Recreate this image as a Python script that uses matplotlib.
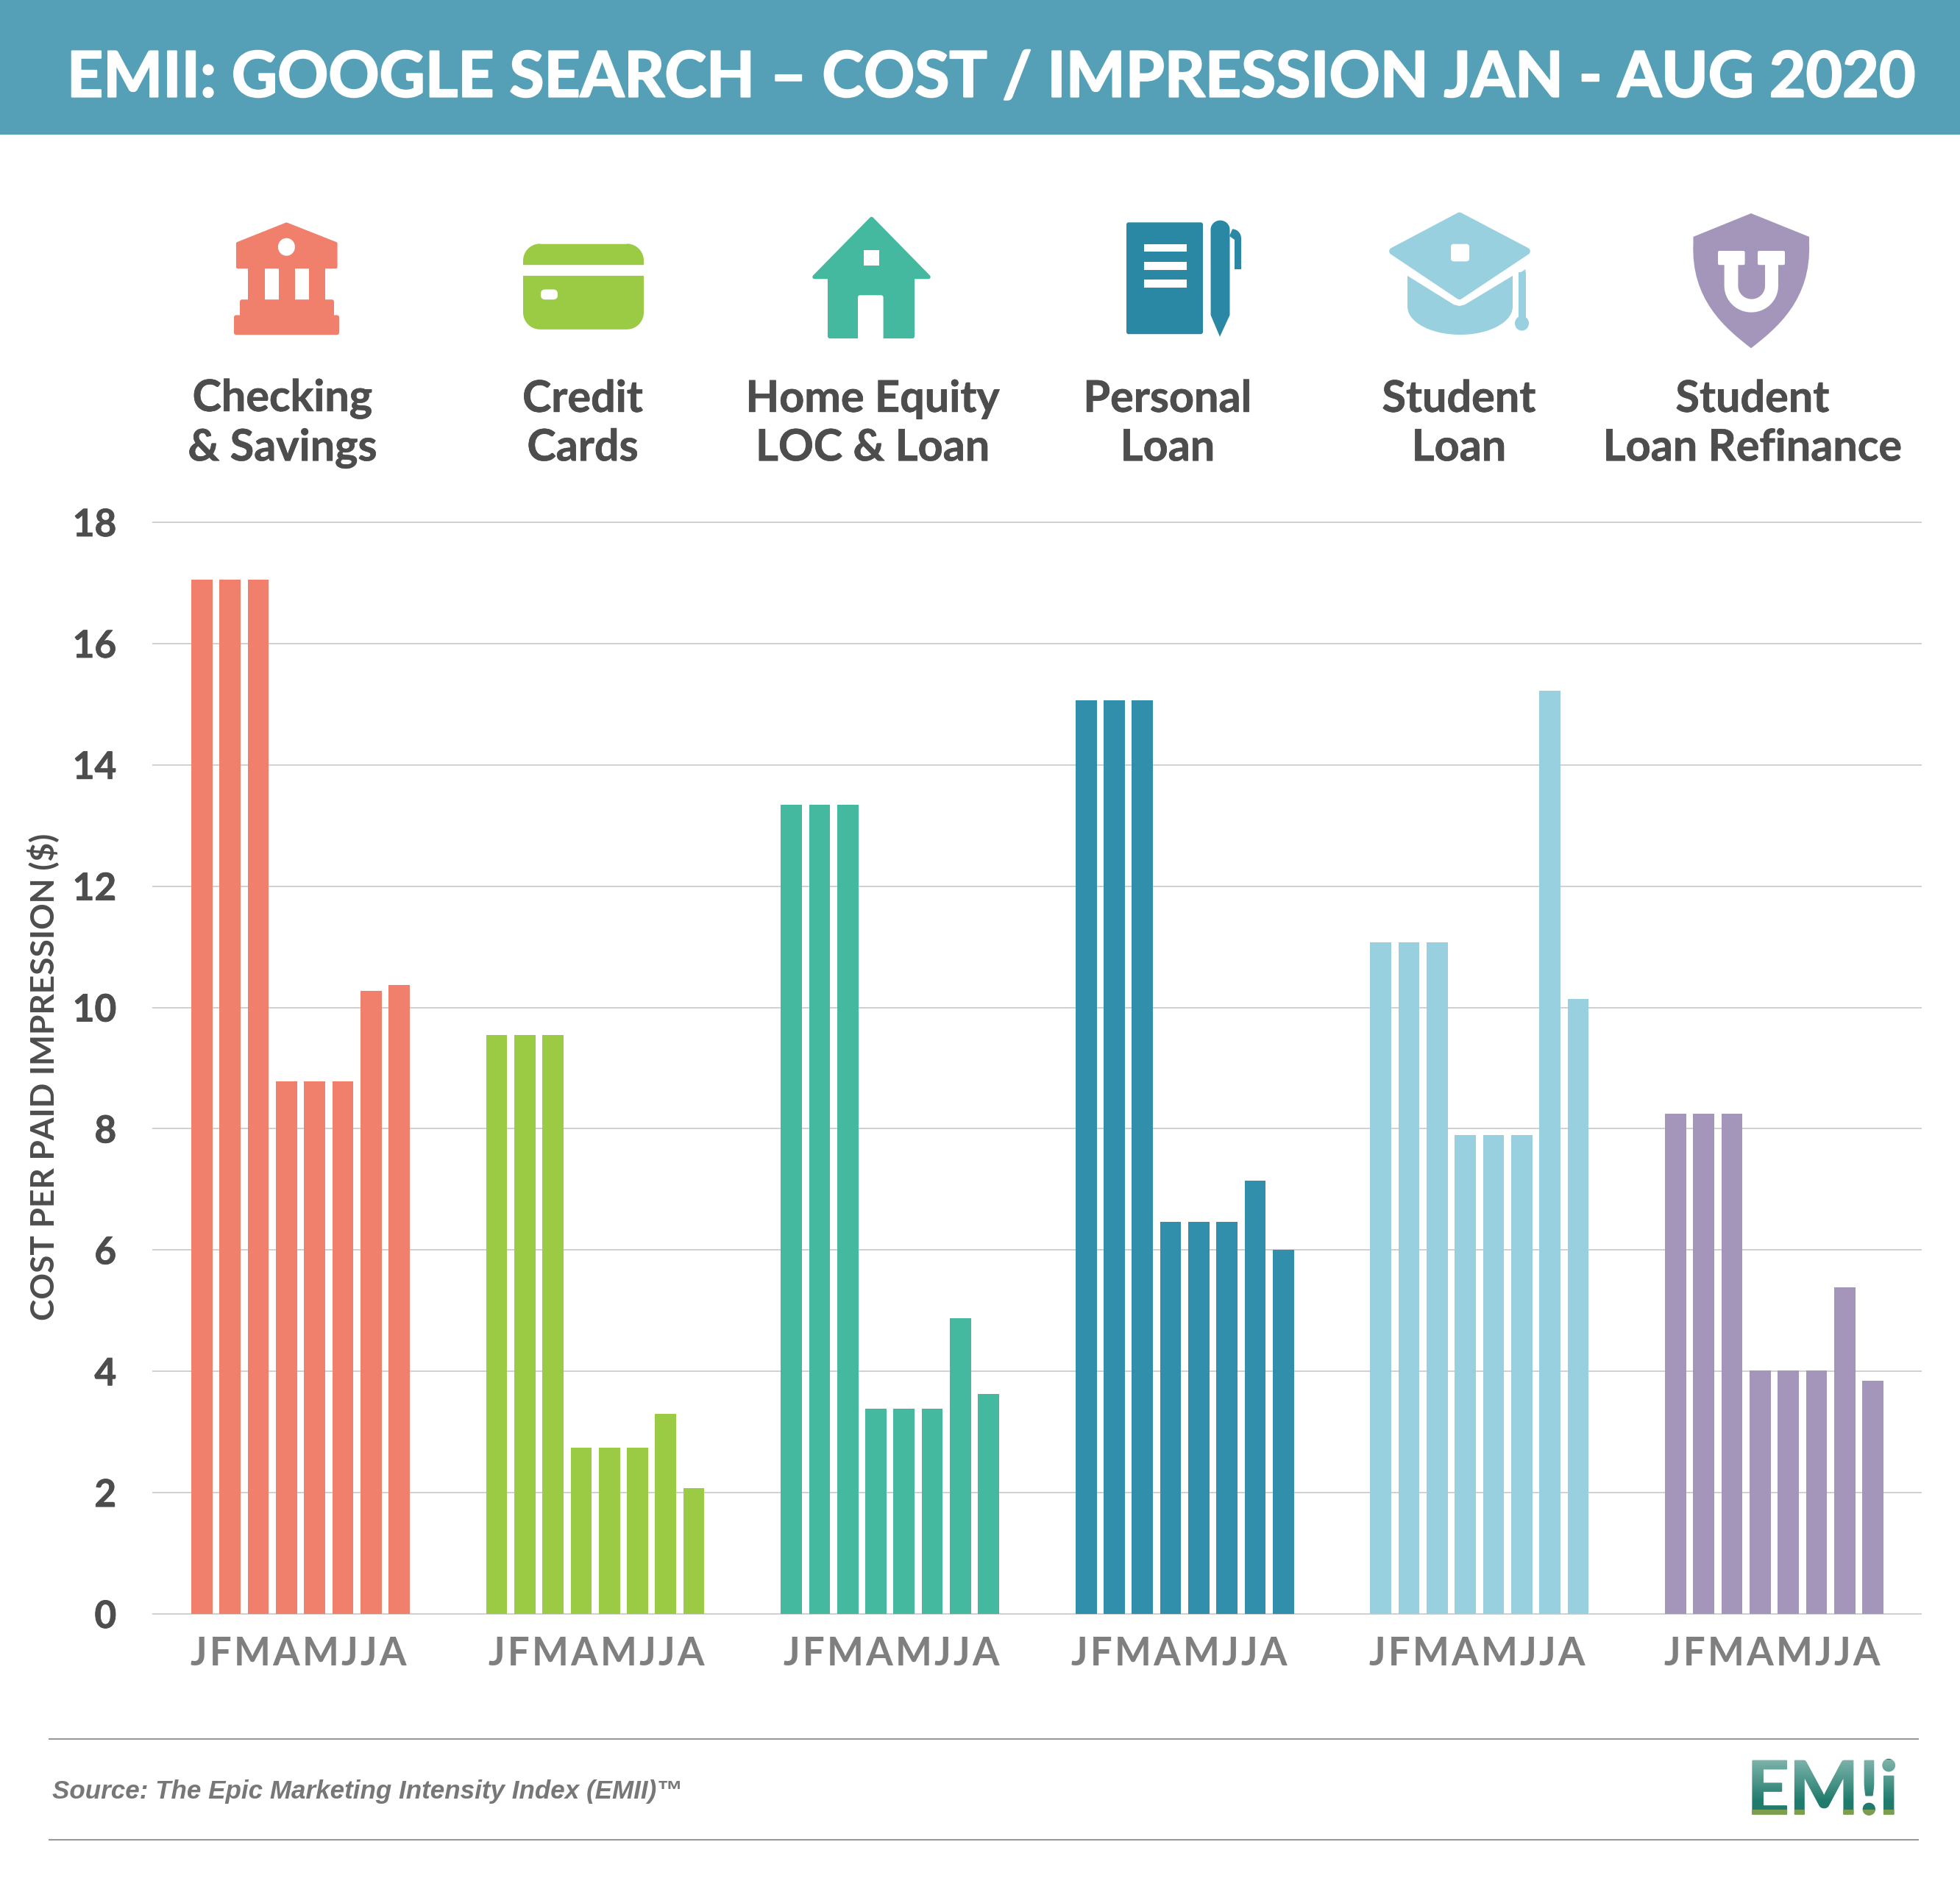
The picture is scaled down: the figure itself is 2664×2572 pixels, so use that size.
#
# EMII cost per impression chart, six categories by month
#
import numpy as np
import matplotlib
matplotlib.use("Agg")
import matplotlib.pyplot as plt
import matplotlib.patheffects as pe
from matplotlib.patches import Rectangle, Polygon, Ellipse, FancyBboxPatch, PathPatch
from matplotlib.path import Path

categories = ["Checking\n& Savings", "Credit\nCards", "Home Equity\nLOC & Loan",
              "Personal\nLoan", "Student\nLoan", "Student\nLoan Refinance"]
month_labels = "\u200a".join("JFMAMJJA")

checking = [17.05, 17.05, 17.05, 8.78, 8.78, 8.78, 10.27, 10.37]
credit = [9.55, 9.55, 9.55, 2.74, 2.74, 2.74, 3.30, 2.08]
home_equity = [13.34, 13.34, 13.34, 3.38, 3.38, 3.38, 4.87, 3.63]
personal = [15.07, 15.07, 15.07, 6.47, 6.47, 6.47, 7.15, 6.00]
student = [11.07, 11.07, 11.07, 7.90, 7.90, 7.90, 15.22, 10.14]
refinance = [8.25, 8.25, 8.25, 4.02, 4.02, 4.02, 5.38, 3.84]
all_series = [checking, credit, home_equity, personal, student, refinance]

colors = ["#F0806C", "#9BCA45", "#45B8A0", "#318FAB", "#98D0E0", "#A396BA"]
icon_colors = ["#F0806C", "#9BCA45", "#45B8A0", "#2B88A4", "#98D0E0", "#A396BA"]
y_ticks = list(range(0, 19, 2))

W, H = 2664, 2572
TEXT_DARK = "#4D4D4D"
FONT = "Lato"

fig = plt.figure(figsize=(W / 100, H / 100), dpi=100, facecolor="white")

# full figure axes in pixel units, for the banner, icons and footer
bg = fig.add_axes([0, 0, 1, 1])
bg.set_xlim(0, W)
bg.set_ylim(H, 0)
bg.axis("off")


def rect(x0, y0, x1, y1, color, radius=0):
    if radius:
        bg.add_patch(FancyBboxPatch((x0, y0), x1 - x0, y1 - y0, linewidth=0, facecolor=color,
                                    boxstyle=f"round,pad=0,rounding_size={radius}"))
    else:
        bg.add_patch(Rectangle((x0, y0), x1 - x0, y1 - y0, linewidth=0, facecolor=color))


def poly(points, color, round_px=0):
    bg.add_patch(Polygon(points, closed=True, facecolor=color, edgecolor=color if round_px else "none",
                         linewidth=round_px, joinstyle="round"))


def arc_points(cx, cy, rx, ry, start, end, n=40):
    t = np.radians(np.linspace(start, end, n))
    return list(zip(cx + rx * np.cos(t), cy + ry * np.sin(t)))


def thicken(text, width, color):
    # Lato has no heavier cut installed, so fatten the bold a little
    text.set_path_effects([pe.withStroke(linewidth=width, foreground=color)])


def draw_bank(c):
    poly([(323, 331), (389.4, 304.5), (456.5, 331), (456.5, 363), (323, 363)], c, 3)
    bg.add_patch(Ellipse((389.4, 335.7), 23, 24, facecolor="white", linewidth=0))
    for x0, x1 in [(337.4, 359.6), (378.7, 401), (420, 442)]:
        rect(x0, 360, x1, 409, c)
    rect(326, 407.2, 454, 431, c, 3)
    rect(318, 428.4, 461, 455.2, c, 3)


def draw_card(c):
    poly([(734, 331.7), (852, 331.7)] + arc_points(852, 354.3, 23, 23, -90, 0, 12) +
         [(875, 360.2), (711, 360.2)] + arc_points(734, 354.3, 23, 23, 180, 270, 12), c)
    poly([(711, 374.9), (875, 374.9)] + arc_points(852, 424.8, 23, 23, 0, 90, 12) +
         arc_points(734, 424.8, 23, 23, 90, 180, 12), c)
    rect(735, 393.5, 758, 407.2, "white", 6)


def draw_house(c):
    poly([(1184.6, 297.5), (1262, 376.5), (1107, 376.5)], c, 4)
    rect(1125, 372.9, 1243, 460.1, c, 3)
    rect(1166, 401.3, 1200.6, 466, "white", 3)
    rect(1174, 339.6, 1195, 361.1, "white")


def draw_notebook(c):
    rect(1531, 302.3, 1635, 454.2, c, 3)
    for y0, y1 in [(331.7, 342.5), (356.2, 367), (379.8, 390.5)]:
        rect(1555, y0, 1613, y1, "white")
    # pen body and clip
    poly(arc_points(1658.5, 312.1, 13, 12.5, 180, 360) + [(1671.5, 428.4), (1658, 457.7), (1645.6, 428.4)], c)
    poly(arc_points(1675, 323.9, 12, 12.5, -90, 0, 12) + [(1687, 366), (1678, 366), (1678, 325.9),
                                                      (1671, 321)], c)


def draw_cap(c):
    poly([(1983.7, 293.5), (2075, 341.5), (1983.7, 402.3), (1893, 341.5)], c, 7)
    rect(1972, 331.7, 1997, 355.3, "white", 4)
    poly([(1913, 374.9), (1976, 414.1), (1983.7, 416), (1991, 414.1), (2056, 374.9)] +
         arc_points(1984.5, 417, 71.5, 38, 0, 180), c)
    rect(2064, 370, 2073.5, 432.7, c)
    poly([(2064, 371.9), (2073.5, 366), (2073.5, 373.9)], c)
    bg.add_patch(Ellipse((2068.5, 439.5), 19, 20, facecolor=c, linewidth=0))


def draw_shield(c):
    verts = [(2380, 290), (2459, 321.9), (2459, 330.8), (2462, 407.2), (2415, 446.4), (2380, 473.3),
             (2345, 446.4), (2298, 407.2), (2301.5, 330.8), (2301.5, 321.9), (2380, 290)]
    codes = [Path.MOVETO, Path.LINETO, Path.LINETO, Path.CURVE4, Path.CURVE4, Path.CURVE4,
             Path.CURVE4, Path.CURVE4, Path.CURVE4, Path.LINETO, Path.CLOSEPOLY]
    bg.add_patch(PathPatch(Path(verts, codes), facecolor=c, linewidth=0))
    # the white U
    poly([(2343.6, 353.3)] + arc_points(2380.3, 388.6, 36.7, 36, 180, 0, 30) +
         [(2417, 353.3), (2399, 353.3)] + arc_points(2380.7, 388.6, 18.3, 18, 0, 180, 30) + [(2362.5, 353.3)],
         "white")
    rect(2335, 341, 2371.6, 360.2, "white", 2)
    rect(2389, 341, 2426, 360.2, "white", 2)


# banner
rect(0, 0, W, 183, "#55A0B7")
title = bg.text(1346, 107, "EMII: GOOGLE SEARCH – COST / IMPRESSION JAN - AUG 2020", color="white",
                fontsize=61.7, fontweight="bold", family=FONT, ha="center", va="center")
thicken(title, 1.6, "white")

# icons over the category names
for draw, c in zip([draw_bank, draw_card, draw_house, draw_notebook, draw_cap, draw_shield], icon_colors):
    draw(c)

label_x = [384, 792, 1186, 1587, 1983, 2382]
for x, name in zip(label_x, categories):
    label = bg.text(x, 576, name, color=TEXT_DARK, fontsize=42.7, fontweight="bold", family=FONT,
                    ha="center", va="center", linespacing=1.28)
    thicken(label, 0.5, TEXT_DARK)

bg.text(58, 1464, "COST PER PAID IMPRESSION ($)", color=TEXT_DARK, fontsize=31.9, fontweight="bold",
        family=FONT, rotation=90, ha="center", va="center")

# footer
for y in [2364, 2500.7]:
    bg.plot([66, 2608], [y, y], color="#999999", lw=1.5, solid_capstyle="butt")
bg.text(71, 2436, "Source: The Epic Marketing Intensity Index (EMII)™", color="#777777", fontsize=25.2,
        fontweight="bold", style="italic", family="Liberation Sans", ha="left", va="center")

# logo, real text with a fade at the top and green feet at the bottom
logo = bg.text(2477, 2466, "EM!i", color="#1F7B6C", fontsize=72, fontweight="bold", family=FONT,
               ha="center", va="baseline")
thicken(logo, 1.5, "#1F7B6C")
fade = np.ones((64, 1, 4))
fade[:, 0, 3] = np.clip(np.linspace(0.42, -0.02, 64), 0, 1)
bg.imshow(fade, extent=(2370, 2585, 2452, 2392), aspect="auto", zorder=5)
feet = bg.text(2477, 2466, "EM!i", color="#7D9D4F", fontsize=72, fontweight="bold", family=FONT,
               ha="center", va="baseline", zorder=6, clip_on=True)
thicken(feet, 1.5, "#7D9D4F")
feet.set_clip_path(Rectangle((2370, 2460), 215, 12, transform=bg.transData))
bg.set_xlim(0, W)
bg.set_ylim(H, 0)

# the chart itself, x runs in bar pitches from the first bar
PITCH_PX = 38.3
GROUP_STEP = 400.6 / PITCH_PX
LABEL_NUDGE_PX = [-3, 2, 2, -7, -3, -3]
ax = fig.add_axes([207.5 / W, 1 - 2194 / H, (2611 - 207.5) / W, (2194 - 710) / H])
ax.patch.set_alpha(0)
ax.set_xlim((207.5 - 274.4) / PITCH_PX, (2611 - 274.4) / PITCH_PX)
ax.set_ylim(0, 18)

tick_x = []
for g, (series, color) in enumerate(zip(all_series, colors)):
    xs = np.arange(len(series)) + g * GROUP_STEP
    ax.bar(xs, series, width=0.75, color=color, linewidth=0, zorder=3)
    tick_x.append(xs.mean() + LABEL_NUDGE_PX[g] / PITCH_PX)

ax.set_yticks(y_ticks)
ax.set_xticks(tick_x)
ax.set_xticklabels([month_labels] * len(all_series))
ax.grid(axis="y", color="#D0D0D0", lw=1.4, zorder=0)
for gl in ax.get_ygridlines():
    gl.set_clip_on(False)
ax.set_axisbelow(True)
for s in ax.spines.values():
    s.set_visible(False)
ax.tick_params(axis="y", length=0, pad=35.5, labelsize=37, labelcolor=TEXT_DARK)
ax.tick_params(axis="x", length=0, pad=21.5, labelsize=38, labelcolor="#7F7F7F")
for t in ax.get_yticklabels():
    t.set_family(FONT)
    t.set_fontweight("bold")
    thicken(t, 0.6, TEXT_DARK)
for t in ax.get_xticklabels():
    t.set_family(FONT)
    t.set_fontweight("bold")

fig.savefig("out.png", dpi=100)
